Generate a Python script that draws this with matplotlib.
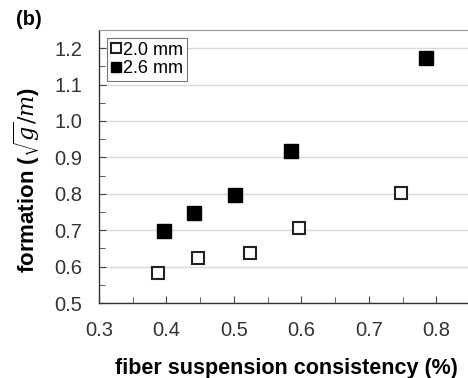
import matplotlib
matplotlib.use("Agg")
import matplotlib.pyplot as plt
from matplotlib.ticker import MultipleLocator, FormatStrFormatter

plt.rcParams["font.family"] = ["Liberation Sans", "DejaVu Sans"]
plt.rcParams["mathtext.fontset"] = "dejavuserif"

# data
x_20 = [0.387, 0.447, 0.524, 0.597, 0.748]
y_20 = [0.583, 0.624, 0.638, 0.706, 0.802]
x_26 = [0.397, 0.441, 0.501, 0.585, 0.785]
y_26 = [0.698, 0.747, 0.797, 0.918, 1.172]
series_labels = ["2.0 mm", "2.6 mm"]

fig = plt.figure(figsize=(4.68, 3.78), dpi=100)
ax = fig.add_axes([0.2115, 0.198, 0.80, 0.723])

ax.plot(x_20, y_20, ls="none", marker="s", ms=8.5, mfc="white", mec="#222222",
        mew=1.5, label=series_labels[0], zorder=3)
ax.plot(x_26, y_26, ls="none", marker="s", ms=9.5, mfc="black", mec="black",
        label=series_labels[1], zorder=3)

ax.set_xlim(0.3, 0.855)
ax.set_ylim(0.5, 1.25)
ax.xaxis.set_major_locator(MultipleLocator(0.1))
ax.xaxis.set_minor_locator(MultipleLocator(0.05))
ax.yaxis.set_major_locator(MultipleLocator(0.1))
ax.yaxis.set_minor_locator(MultipleLocator(0.05))
ax.xaxis.set_major_formatter(FormatStrFormatter("%.1f"))
ax.yaxis.set_major_formatter(FormatStrFormatter("%.1f"))
ax.grid(axis="y", which="major", color="#d9d9d9", lw=1.0)
ax.set_axisbelow(True)

ax.tick_params(which="both", direction="in", colors="#444444", labelcolor="#333333",
               labelsize=14.5)
ax.tick_params(which="major", length=5)
ax.tick_params(which="minor", length=4)
ax.tick_params(axis="x", pad=12.5)
ax.tick_params(axis="y", pad=12)

for side in ["left", "bottom"]:
    ax.spines[side].set_color("#333333")
    ax.spines[side].set_linewidth(1.0)
ax.spines["top"].set_color("#999999")
ax.spines["right"].set_visible(False)

ax.set_xlabel("fiber suspension consistency (%)", fontsize=15.5, fontweight="bold",
              labelpad=13)
ax.set_ylabel(r"formation ($\sqrt{g}/m$)", fontsize=16, fontweight="bold",
              labelpad=9)
ax.yaxis.label.set_y(0.45)

leg = ax.legend(loc="upper left", fontsize=13, handlelength=0.6, handletextpad=0.1,
                borderpad=0.2, labelspacing=0.1, borderaxespad=0.45, fancybox=False,
                framealpha=1, edgecolor="#777777", markerscale=0.8)
leg.get_frame().set_linewidth(0.8)

fig.text(0.034, 0.934, "(b)", fontsize=14.5, fontweight="bold")

fig.savefig("out.png", dpi=100)
